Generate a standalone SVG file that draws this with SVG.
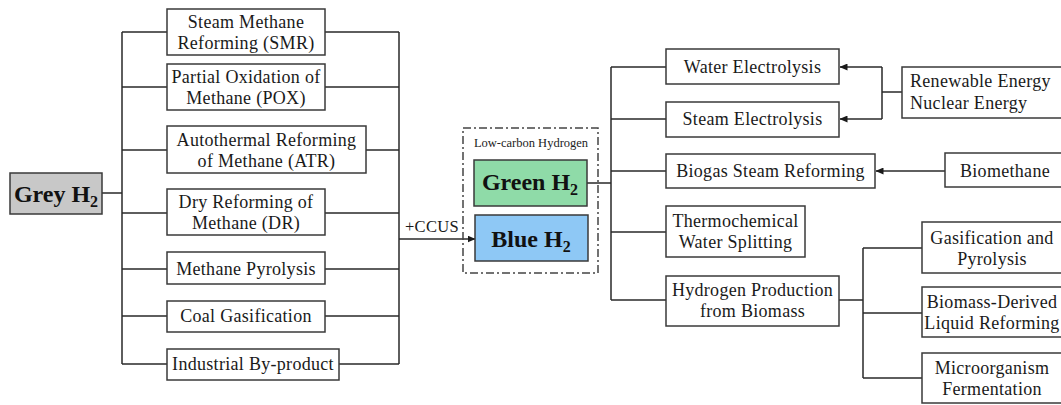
<svg xmlns="http://www.w3.org/2000/svg" width="1061" height="405" viewBox="0 0 1061 405">
<defs>
<marker id="arr" markerWidth="8" markerHeight="7" refX="7.5" refY="3.5" orient="auto" markerUnits="userSpaceOnUse">
<path d="M0,0 L8,3.5 L0,7 z" fill="#1a1a1a"/>
</marker>
<style>
.box{fill:#fff;stroke:#3a3a3a;stroke-width:1.5}
.t{font-family:"Liberation Serif","Times New Roman",serif;font-size:18px;letter-spacing:0.3px;fill:#1a1a1a;text-anchor:middle}
.tl{font-family:"Liberation Serif","Times New Roman",serif;font-size:18px;letter-spacing:0.3px;fill:#1a1a1a}
.big{font-family:"Liberation Serif","Times New Roman",serif;font-size:24px;font-weight:bold;fill:#111;text-anchor:middle}
.ln{fill:none;stroke:#2a2a2a;stroke-width:1.5}
</style>
</defs>
<rect width="1061" height="405" fill="#fff"/>

<g id="connectors">
<path class="ln" d="M102,193 H122 M122,32 V364 M122,32 H167 M122,87 H167 M122,150 H167 M122,213 H167 M122,269 H167 M122,316 H167 M122,364 H167"/>
<path class="ln" d="M325,32 H399 M325,87 H399 M366,150 H399 M325,213 H399 M325,269 H399 M325,316 H399 M339,364 H399 M399,32 V364"/>
<path class="ln" d="M399,239 H475" marker-end="url(#arr)"/>
<path class="ln" d="M587,183 H611 M611,67 V300 M611,67 H666 M611,119 H666 M611,171 H666 M611,232 H666 M611,300 H666"/>
<path class="ln" d="M839,300 H863 M863,248 V378 M863,248 H922 M863,313 H922 M863,378 H922"/>
<path class="ln" d="M902,92 H882 M882,67 V119"/>
<path class="ln" d="M882,67 H840" marker-end="url(#arr)"/>
<path class="ln" d="M882,119 H840" marker-end="url(#arr)"/>
<path class="ln" d="M945,171 H876" marker-end="url(#arr)"/>
<text class="tl" x="405" y="232" style="font-size:16.5px">+CCUS</text>
</g>

<g id="grey">
<rect x="10" y="173" width="92" height="41" fill="#c8c8c8" stroke="#3a3a3a" stroke-width="1.5"/>
<text class="big" x="56" y="202">Grey H<tspan font-size="16" dy="5">2</tspan></text>
</g>

<g id="smr"><rect class="box" x="167" y="9" width="158" height="46"/>
<text class="t" x="246" y="28">Steam Methane</text><text class="t" x="246" y="49">Reforming (SMR)</text></g>
<g id="pox"><rect class="box" x="167" y="64" width="158" height="46"/>
<text class="t" x="246" y="83">Partial Oxidation of</text><text class="t" x="246" y="104">Methane (POX)</text></g>
<g id="atr"><rect class="box" x="167" y="126" width="199" height="47"/>
<text class="t" x="266.5" y="146">Autothermal Reforming</text><text class="t" x="266.5" y="167">of Methane (ATR)</text></g>
<g id="dr"><rect class="box" x="167" y="189" width="158" height="46"/>
<text class="t" x="246" y="208">Dry Reforming of</text><text class="t" x="246" y="229">Methane (DR)</text></g>
<g id="pyro"><rect class="box" x="167" y="252" width="158" height="32"/>
<text class="t" x="246" y="275">Methane Pyrolysis</text></g>
<g id="coal"><rect class="box" x="167" y="301" width="158" height="31"/>
<text class="t" x="246" y="322">Coal Gasification</text></g>
<g id="indus"><rect class="box" x="167" y="349" width="172" height="31"/>
<text class="t" x="253" y="370">Industrial By-product</text></g>

<g id="lowcarbon">
<rect x="463" y="128" width="135" height="145" fill="none" stroke="#444" stroke-width="1.5" stroke-dasharray="8 3 2 3"/>
<text x="531" y="147" style="font-family:'Liberation Serif','Times New Roman',serif;font-size:12.5px;fill:#222;text-anchor:middle">Low-carbon Hydrogen</text>
</g>
<g id="green">
<rect x="474" y="160" width="113" height="46" fill="#8fdba8" stroke="#3a3a3a" stroke-width="1.5"/>
<text class="big" x="530" y="190">Green H<tspan font-size="16" dy="5">2</tspan></text>
</g>
<g id="blue">
<rect x="475" y="215" width="113" height="46" fill="#8ec8f5" stroke="#3a3a3a" stroke-width="1.5"/>
<text class="big" x="531" y="247">Blue H<tspan font-size="16" dy="5">2</tspan></text>
</g>

<g id="water"><rect class="box" x="666" y="49" width="173" height="35"/>
<text class="t" x="752.5" y="73">Water Electrolysis</text></g>
<g id="steam"><rect class="box" x="666" y="102" width="173" height="35"/>
<text class="t" x="752.5" y="125">Steam Electrolysis</text></g>
<g id="biogas"><rect class="box" x="666" y="154" width="209" height="34"/>
<text class="t" x="770.5" y="177">Biogas Steam Reforming</text></g>
<g id="thermo"><rect class="box" x="666" y="206" width="139" height="51"/>
<text class="t" x="735.5" y="227">Thermochemical</text><text class="t" x="735.5" y="248">Water Splitting</text></g>
<g id="biomass"><rect class="box" x="666" y="276" width="173" height="50"/>
<text class="t" x="752.5" y="296">Hydrogen Production</text><text class="t" x="752.5" y="317">from Biomass</text></g>

<g id="renew"><rect class="box" x="902" y="67" width="165" height="51"/>
<text class="tl" x="910" y="87">Renewable Energy</text><text class="tl" x="910" y="109">Nuclear Energy</text></g>
<g id="biomethane"><rect class="box" x="945" y="153" width="122" height="34"/>
<text class="t" x="1005" y="177">Biomethane</text></g>
<g id="gasif"><rect class="box" x="922" y="222" width="142" height="51"/>
<text class="t" x="992" y="244">Gasification and</text><text class="t" x="992" y="265">Pyrolysis</text></g>
<g id="liquid"><rect class="box" x="922" y="287" width="142" height="50"/>
<text class="t" x="992" y="308">Biomass-Derived</text><text class="t" x="992" y="329">Liquid Reforming</text></g>
<g id="micro"><rect class="box" x="922" y="353" width="142" height="50"/>
<text class="t" x="992" y="374">Microorganism</text><text class="t" x="992" y="395">Fermentation</text></g>
</svg>
